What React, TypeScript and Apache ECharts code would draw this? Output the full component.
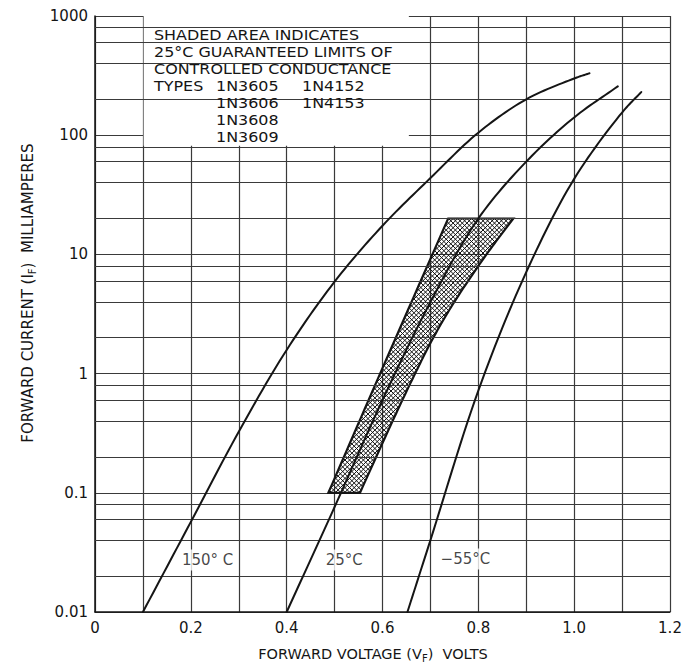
import React, { useEffect, useRef } from "react";
import * as echarts from "echarts";

// ---- axis ticks ----
const xTicks = [0, 0.2, 0.4, 0.6, 0.8, 1.0, 1.2];
const xTickLabels = ["0", "0.2", "0.4", "0.6", "0.8", "1.0", "1.2"];
const yDecades = [0.01, 0.1, 1, 10, 100, 1000];
const yTickLabels = ["0.01", "0.1", "1", "10", "100", "1000"];
const minorGridValues = [
  0.02, 0.04, 0.06, 0.08,
  0.2, 0.4, 0.6, 0.8,
  2, 4, 6, 8,
  20, 40, 60, 80,
  200, 400, 600, 800,
];

// ---- curves (forward voltage V, forward current mA) ----
const v150 = [0.1, 0.2, 0.3, 0.4, 0.5, 0.6, 0.7, 0.8, 0.9, 1.0, 1.032];
const i150 = [0.01, 0.057, 0.325, 1.58, 5.9, 17.4, 43.7, 105, 200, 299, 331];

const v25 = [0.4, 0.5, 0.6, 0.7, 0.8, 0.9, 1.0, 1.091];
const i25 = [0.01, 0.076, 0.6, 3.98, 20, 60, 141, 257];

const vM55 = [0.652, 0.7, 0.8, 0.9, 1.0, 1.1, 1.14];
const iM55 = [0.01, 0.04, 0.72, 7.1, 43, 155, 230];

// ---- shaded band (25°C guaranteed limits) ----
const bandLeftV = [0.487, 0.595, 0.737];
const bandLeftI = [0.1, 1.0, 20];
const bandRightV = [0.873, 0.817, 0.75, 0.706, 0.668, 0.621, 0.553];
const bandRightI = [20, 10, 4, 2, 1, 0.4, 0.1];

// ---- curve labels ----
const curveLabels = ["150° C", "25°C", "−55°C"];
const curveLabelV = [0.235, 0.52, 0.773];
const curveLabelI = [0.0273, 0.0273, 0.0278];

// ---- note box ----
const noteBoxV = [0.1015, 0.655];
const noteBoxI = [81.5, 1000];
const noteLines = [
  "SHADED AREA INDICATES",
  "25°C GUARANTEED LIMITS OF",
  "CONTROLLED CONDUCTANCE",
];
const noteTypesCol1 = ["1N3605", "1N3606", "1N3608", "1N3609"];
const noteTypesCol2 = ["1N4152", "1N4153"];

const FONT = "DejaVu Sans";
const INK = "#151515";
const GRID = "#3a3a3a";

// centripetal Catmull-Rom through pixel points (rendering only)
function spline(pts: number[][], samples = 14): number[][] {
  if (pts.length < 3) return pts;
  const ext = [
    [2 * pts[0][0] - pts[1][0], 2 * pts[0][1] - pts[1][1]],
    ...pts,
    [2 * pts[pts.length - 1][0] - pts[pts.length - 2][0], 2 * pts[pts.length - 1][1] - pts[pts.length - 2][1]],
  ];
  const out: number[][] = [pts[0]];
  const lerp = (a: number[], b: number[], ta: number, tb: number, t: number) => {
    const d = tb - ta || 1e-6;
    return [((tb - t) / d) * a[0] + ((t - ta) / d) * b[0], ((tb - t) / d) * a[1] + ((t - ta) / d) * b[1]];
  };
  const dist = (a: number[], b: number[]) => Math.pow(Math.hypot(b[0] - a[0], b[1] - a[1]), 0.5) || 1e-3;
  for (let i = 1; i < ext.length - 2; i++) {
    const P0 = ext[i - 1], P1 = ext[i], P2 = ext[i + 1], P3 = ext[i + 2];
    const t0 = 0;
    const t1 = t0 + dist(P0, P1);
    const t2 = t1 + dist(P1, P2);
    const t3 = t2 + dist(P2, P3);
    for (let s = 1; s <= samples; s++) {
      const t = t1 + ((t2 - t1) * s) / samples;
      const A1 = lerp(P0, P1, t0, t1, t);
      const A2 = lerp(P1, P2, t1, t2, t);
      const A3 = lerp(P2, P3, t2, t3, t);
      const B1 = lerp(A1, A2, t0, t2, t);
      const B2 = lerp(A2, A3, t1, t3, t);
      out.push(lerp(B1, B2, t1, t2, t));
    }
  }
  return out;
}

function hatch(pts: number[][], step: number, dir: number) {
  const f = (p: number[]) => p[1] - dir * p[0];
  let minC = Infinity;
  let maxC = -Infinity;
  pts.forEach((p) => {
    const c = f(p);
    if (c < minC) minC = c;
    if (c > maxC) maxC = c;
  });
  const segs: number[][][] = [];
  for (let c = Math.ceil(minC / step) * step; c <= maxC; c += step) {
    const xs: number[][] = [];
    for (let k = 0; k < pts.length; k++) {
      const a = pts[k];
      const b = pts[(k + 1) % pts.length];
      const fa = f(a) - c;
      const fb = f(b) - c;
      if ((fa < 0 && fb >= 0) || (fa >= 0 && fb < 0)) {
        const t = fa / (fa - fb);
        xs.push([a[0] + t * (b[0] - a[0]), a[1] + t * (b[1] - a[1])]);
      }
    }
    xs.sort((p, q) => p[0] - q[0]);
    for (let k = 0; k + 1 < xs.length; k += 2) segs.push([xs[k], xs[k + 1]]);
  }
  return segs;
}

function curveSeries(name: string, vs: number[], is: number[]) {
  return {
    name,
    type: "custom",
    z: 5,
    silent: true,
    data: [[vs[0], is[0]]],
    renderItem: (_p: any, api: any) => {
      const pts = vs.map((v, k) => api.coord([v, is[k]]));
      return {
        type: "polyline",
        shape: { points: spline(pts) },
        style: { fill: "none", stroke: INK, lineWidth: 2, lineJoin: "round", lineCap: "round" },
      };
    },
  };
}

function noteText(t: string, x: number, y: number) {
  return {
    type: "text",
    x,
    y,
    z: 100,
    scaleX: 1.1,
    silent: true,
    style: {
      text: t,
      fill: INK,
      fontSize: 14.5,
      fontFamily: FONT,
      align: "left",
      verticalAlign: "middle",
    },
  };
}

export default function App() {
  const ref = useRef<HTMLDivElement>(null);

  useEffect(() => {
    if (!ref.current) return;
    const chart = echarts.init(ref.current, undefined, { renderer: "svg" });

    const rowY = [35, 52, 69, 86, 103, 120, 137];
    const graphicTexts: any[] = [];
    noteLines.forEach((t, k) => graphicTexts.push(noteText(t, 154, rowY[k])));
    graphicTexts.push(noteText("TYPES", 154, rowY[3]));
    noteTypesCol1.forEach((t, k) => graphicTexts.push(noteText(t, 216, rowY[3 + k])));
    noteTypesCol2.forEach((t, k) => graphicTexts.push(noteText(t, 302, rowY[3 + k])));

    const option: any = {
      animation: false,
      backgroundColor: "#ffffff",
      grid: { left: 95, right: 15, top: 16, bottom: 52 },
      xAxis: {
        type: "value",
        min: 0,
        max: 1.2,
        interval: 0.1,
        axisLine: { show: true, lineStyle: { color: INK, width: 1.5 } },
        axisTick: { show: false },
        axisLabel: {
          color: INK,
          fontSize: 15,
          fontFamily: FONT,
          margin: 8,
          formatter: (v: number) => {
            const idx = xTicks.findIndex((t) => Math.abs(t - v) < 1e-6);
            return idx >= 0 ? xTickLabels[idx] : "";
          },
        },
        splitLine: { show: true, lineStyle: { color: GRID, width: 1.2 } },
      },
      yAxis: {
        type: "log",
        logBase: 10,
        min: 0.01,
        max: 1000,
        interval: 1,
        axisLine: { show: true, lineStyle: { color: INK, width: 1.5 } },
        axisTick: { show: false },
        axisLabel: {
          color: INK,
          fontSize: 15,
          fontFamily: FONT,
          margin: 7,
          formatter: (v: number) => {
            const idx = yDecades.findIndex((d) => Math.abs(Math.log10(d) - Math.log10(v)) < 1e-6);
            return idx >= 0 ? yTickLabels[idx] : "";
          },
        },
        splitLine: { show: true, lineStyle: { color: GRID, width: 1.2 } },
      },
      series: [
        {
          name: "grid",
          type: "line",
          z: 1,
          data: [],
          silent: true,
          markLine: {
            silent: true,
            symbol: "none",
            label: { show: false },
            lineStyle: { color: GRID, width: 1.2, type: "solid" },
            data: minorGridValues.map((v) => ({ yAxis: v })),
          },
        },
        {
          name: "note box",
          type: "line",
          z: 2,
          data: [],
          silent: true,
          markArea: {
            silent: true,
            itemStyle: { color: "#ffffff", opacity: 1 },
            label: { show: false },
            data: [[{ coord: [noteBoxV[0], noteBoxI[0]] }, { coord: [noteBoxV[1], noteBoxI[1]] }]],
          },
        },
        {
          name: "band",
          type: "custom",
          z: 4,
          silent: true,
          data: [[0.6, 1]],
          renderItem: (_params: any, api: any) => {
            const left = spline(bandLeftV.map((v, k) => api.coord([v, bandLeftI[k]])));
            const right = spline(bandRightV.map((v, k) => api.coord([v, bandRightI[k]])));
            const pts = left.concat(right);
            const children: any[] = [];
            const segs = hatch(pts, 4.6, 1).concat(hatch(pts, 4.6, -1));
            segs.forEach((s) => {
              children.push({
                type: "line",
                shape: { x1: s[0][0], y1: s[0][1], x2: s[1][0], y2: s[1][1] },
                style: { stroke: "#111", lineWidth: 1 },
              });
            });
            children.push({
              type: "polygon",
              shape: { points: pts },
              style: { fill: "none", stroke: INK, lineWidth: 2.2, lineJoin: "miter" },
            });
            return { type: "group", children };
          },
        },
        curveSeries("150°C", v150, i150),
        curveSeries("25°C", v25, i25),
        curveSeries("-55°C", vM55, iM55),
        {
          name: "labels",
          type: "scatter",
          z: 6,
          silent: true,
          symbolSize: 0,
          data: curveLabels.map((t, k) => [curveLabelV[k], curveLabelI[k], t]),
          label: {
            show: true,
            position: "inside",
            formatter: (p: any) => p.data[2],
            color: INK,
            fontSize: 15,
            fontFamily: FONT,
            backgroundColor: "#ffffff",
            padding: [3, 3],
          },
        },
      ],
      graphic: [
        ...graphicTexts,
        {
          type: "text",
          x: 373,
          y: 654,
          z: 100,
          silent: true,
          style: {
            text: "FORWARD VOLTAGE (V{s|F})  VOLTS",
            fill: INK,
            fontSize: 14.5,
            fontFamily: FONT,
            align: "center",
            verticalAlign: "middle",
            lineHeight: 18,
            rich: {
              s: { fontSize: 10, fontFamily: FONT, fill: INK, verticalAlign: "bottom", lineHeight: 12 },
            },
          },
        },
        {
          type: "text",
          x: 28,
          y: 293,
          z: 100,
          rotation: Math.PI / 2,
          silent: true,
          style: {
            text: "FORWARD CURRENT (I{s|F})  MILLIAMPERES",
            fill: INK,
            fontSize: 15,
            fontFamily: FONT,
            align: "center",
            verticalAlign: "middle",
            lineHeight: 18,
            rich: {
              s: { fontSize: 10, fontFamily: FONT, fill: INK, verticalAlign: "bottom", lineHeight: 12 },
            },
          },
        },
      ],
    };

    chart.setOption(option);
    return () => chart.dispose();
  }, []);

  return (
    <div
      ref={ref}
      style={{ position: "fixed", left: 0, top: 0, width: 685, height: 664, background: "#fff" }}
    />
  );
}
